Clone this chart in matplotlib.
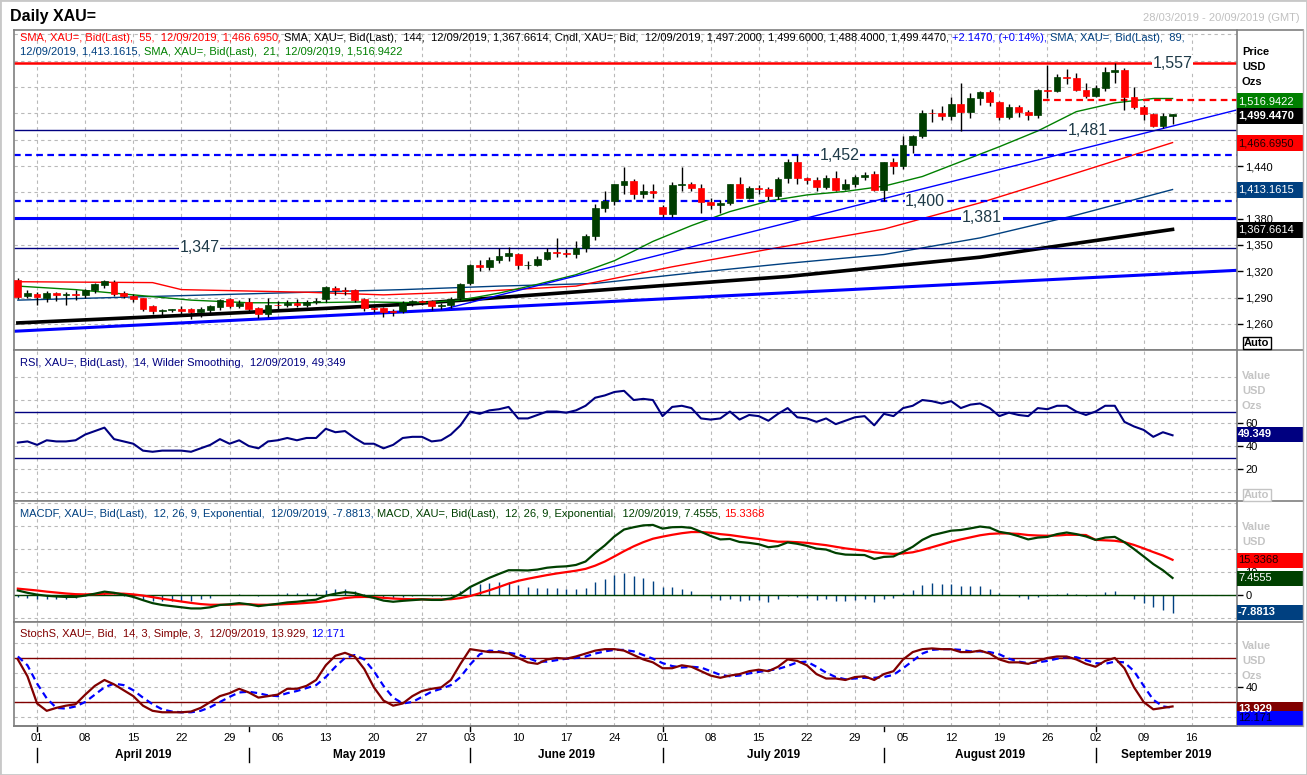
"""
Daily XAU= chart: candles with SMAs and trend lines, RSI, MACD and slow stochastics.
"""
import numpy as np
import pandas as pd
import matplotlib
matplotlib.use('Agg')
import matplotlib.pyplot as plt
from matplotlib.patches import Rectangle

plt.rcParams['font.family'] = ['Liberation Sans', 'DejaVu Sans']

# ---------------- data ----------------
dates = pd.bdate_range('2019-03-28', '2019-09-12')
axis_days = pd.bdate_range('2019-03-28', '2019-09-20')

opens = [1310, 1292,
         1294, 1290, 1295, 1293, 1294,
         1293, 1298, 1304, 1308, 1295,
         1292, 1290, 1280, 1275, 1276,
         1277, 1277, 1274, 1276, 1279,
         1288, 1280, 1285, 1278, 1271,
         1282, 1281, 1284, 1281, 1285,
         1288, 1301, 1298, 1299, 1288,
         1278, 1278, 1275, 1275, 1284,
         1286, 1286, 1280, 1281, 1289,
         1306, 1327, 1325, 1333, 1337,
         1340, 1327, 1327, 1334, 1342,
         1341, 1340, 1346, 1360, 1392,
         1400, 1418, 1423, 1408, 1411,
         1393, 1385, 1418, 1420, 1415,
         1399, 1395, 1398, 1419, 1404,
         1415, 1414, 1406, 1426, 1445,
         1426, 1424, 1416, 1426, 1414,
         1419, 1427, 1431, 1413, 1444,
         1440, 1464, 1474, 1501, 1500,
         1497, 1511, 1502, 1517, 1524,
         1513, 1496, 1507, 1502, 1498,
         1527, 1526, 1542, 1540, 1527,
         1520, 1529, 1547, 1549, 1519,
         1507, 1499, 1486, 1497.2]
highs = [1312, 1298,
         1296, 1297, 1296, 1296, 1298,
         1300, 1307, 1310, 1310, 1297,
         1294, 1290, 1281, 1277, 1277,
         1280, 1278, 1279, 1281, 1288,
         1289, 1287, 1289, 1279, 1289,
         1286, 1287, 1288, 1287, 1290,
         1303, 1303, 1302, 1300, 1289,
         1280, 1279, 1277, 1286, 1287,
         1287, 1287, 1284, 1291, 1306,
         1328, 1333, 1336, 1346, 1348,
         1341, 1332, 1337, 1346, 1358,
         1345, 1355, 1362, 1397, 1411,
         1420, 1439, 1425, 1419, 1420,
         1396, 1422, 1439, 1422, 1420,
         1404, 1401, 1420, 1428, 1417,
         1418, 1416, 1427, 1448, 1452,
         1428, 1427, 1430, 1434, 1425,
         1430, 1433, 1434, 1445, 1449,
         1474, 1475, 1504, 1505, 1509,
         1519, 1535, 1523, 1525, 1527,
         1514, 1511, 1510, 1504, 1528,
         1555, 1545, 1551, 1546, 1535,
         1532, 1553, 1557, 1552, 1530,
         1510, 1500, 1500, 1499.6]
lows = [1288, 1289,
        1281, 1285, 1286, 1282, 1287,
        1290, 1295, 1301, 1292, 1289,
        1285, 1275, 1271, 1270, 1273,
        1271, 1266, 1268, 1271, 1276,
        1278, 1278, 1272, 1267, 1268,
        1277, 1279, 1279, 1279, 1283,
        1285, 1293, 1293, 1285, 1275,
        1273, 1268, 1269, 1272, 1280,
        1282, 1276, 1277, 1278, 1287,
        1304, 1320, 1321, 1329, 1332,
        1323, 1323, 1326, 1333, 1336,
        1336, 1335, 1342, 1356, 1388,
        1396, 1408, 1402, 1404, 1403,
        1382, 1382, 1411, 1411, 1386,
        1391, 1386, 1396, 1403, 1402,
        1408, 1401, 1402, 1421, 1420,
        1419, 1412, 1414, 1411, 1413,
        1416, 1424, 1412, 1400, 1431,
        1437, 1455, 1472, 1490, 1493,
        1493, 1480, 1495, 1510, 1508,
        1492, 1494, 1496, 1492, 1495,
        1517, 1524, 1533, 1526, 1518,
        1519, 1525, 1535, 1504, 1505,
        1493, 1485, 1483, 1488.4]
closes = [1291, 1295,
          1291, 1295, 1293, 1294, 1293,
          1298, 1305, 1309, 1294, 1292,
          1288, 1277, 1275, 1276, 1276,
          1275, 1274, 1277, 1280, 1287,
          1280, 1284, 1277, 1271, 1281,
          1281, 1284, 1281, 1285, 1286,
          1302, 1298, 1297, 1287, 1278,
          1277, 1274, 1274, 1284, 1286,
          1285, 1280, 1281, 1288, 1305,
          1327, 1325, 1333, 1337, 1341,
          1327, 1327, 1334, 1342, 1341,
          1340, 1346, 1360, 1392, 1400,
          1419, 1423, 1408, 1411, 1409,
          1385, 1418, 1420, 1415, 1399,
          1395, 1398, 1419, 1404, 1415,
          1414, 1406, 1425, 1445, 1426,
          1424, 1416, 1426, 1413, 1419,
          1427, 1430, 1413, 1444, 1440,
          1464, 1474, 1501, 1500, 1497,
          1511, 1502, 1517, 1524, 1513,
          1496, 1507, 1502, 1498, 1527,
          1526, 1542, 1540, 1527, 1520,
          1529, 1547, 1549, 1519, 1507,
          1499, 1486, 1497, 1499.447]

# moving averages, read at a few day positions
sma21_x = [0, 6, 12, 18, 24, 30, 36, 42, 46, 50, 54, 58, 62, 66, 70, 74, 78,
           82, 86, 90, 94, 98, 102, 106, 110, 114, 118, 120]
sma21_y = [1303, 1299, 1293, 1287, 1284, 1284, 1285, 1284, 1287, 1295, 1305,
           1316, 1332, 1354, 1372, 1388, 1400, 1407, 1411, 1417, 1428, 1445,
           1462, 1480, 1502, 1512, 1517, 1516.94]
sma55_x = [0, 14, 17, 30, 38, 48, 58, 68, 78, 90, 100, 110, 120]
sma55_y = [1308, 1307, 1299, 1296, 1293, 1297, 1303, 1325, 1345, 1368, 1398,
           1432, 1466.70]
sma89_x = [0, 20, 40, 50, 60, 70, 80, 90, 100, 110, 120]
sma89_y = [1287, 1293, 1299, 1303, 1306, 1318, 1329, 1339, 1358, 1384, 1413.16]
sma144_x = [0, 20, 40, 60, 80, 100, 120]
sma144_y = [1261, 1271, 1282, 1298, 1314, 1336, 1367.66]

# drawn lines
levels = [1557, 1481, 1452, 1400, 1381, 1347]
level_labels = ['1,557', '1,481', '1,452', '1,400', '1,381', '1,347']
label_pos = [120, 111.2, 85.4, 94.3, 100.2, 18.9]
trend_major = ([-0.4, 126.7], [1251.5, 1321.0])
trend_minor = ([44, 126.7], [1276, 1504])
resist_dash = ([106.5, 126.7], [1515, 1515])

rsi = [43, 44, 41, 45, 44, 44, 45, 50, 53, 56, 46, 44, 42, 36, 35, 36, 36,
       36, 35, 38, 41, 46, 42, 45, 40, 38, 44, 45, 47, 45, 47, 47, 55, 52,
       53, 47, 42, 42, 38, 41, 47, 48, 48, 44, 45, 50, 58, 70, 68, 71, 72,
       74, 64, 64, 67, 70, 70, 69, 71, 75, 82, 84, 87, 88, 80, 81, 80, 66,
       74, 75, 73, 64, 63, 64, 70, 63, 67, 66, 62, 68, 73, 65, 64, 61, 64,
       59, 62, 65, 66, 58, 68, 66, 73, 75, 80, 79, 77, 79, 73, 76, 77, 73,
       66, 69, 67, 66, 73, 72, 75, 75, 70, 67, 70, 75, 75, 61, 57, 54, 48,
       52, 49.349]

macd = [2.0, 1.0, 0.2, -0.3, -0.6, -0.8, -0.8, -0.2, 0.6, 1.5, 1.0, 0.2,
        -0.8, -2.2, -3.5, -4.3, -4.8, -5.3, -5.8, -5.8, -5.3, -4.3, -4.0,
        -3.5, -4.0, -4.8, -4.3, -3.8, -3.2, -2.9, -2.4, -2.0, -0.3, 0.6, 1.3,
        0.9, -0.3, -1.2, -2.4, -2.9, -2.5, -2.2, -1.9, -2.1, -2.1, -1.4, 0.5,
        3.5, 5.5, 7.5, 9.2, 10.8, 10.8, 10.7, 11.1, 11.9, 12.3, 12.5, 13.1,
        14.6, 18.3, 21.6, 25.5, 28.5, 29.5, 30.3, 30.5, 28.9, 29.5, 29.6,
        29.2, 27.5, 25.7, 24.2, 24.4, 23.1, 22.7, 22.1, 20.8, 21.3, 22.9,
        22.3, 21.4, 20.2, 19.8, 18.3, 17.6, 17.5, 17.4, 15.7, 16.6, 16.8,
        18.8, 21.0, 24.0, 26.0, 27.0, 28.0, 28.3, 29.0, 29.8, 29.3, 27.5,
        26.8, 25.6, 24.2, 25.0, 25.3, 26.5, 27.2, 26.5, 25.5, 24.0, 25.0,
        25.3, 23.0, 20.0, 16.8, 13.5, 10.8, 7.4555]
signal = [2.8, 2.4, 2.0, 1.5, 1.1, 0.7, 0.4, 0.3, 0.4, 0.6, 0.7, 0.6, 0.3,
          -0.2, -0.9, -1.6, -2.2, -2.8, -3.4, -3.9, -4.2, -4.2, -4.2, -4.0,
          -4.0, -4.2, -4.2, -4.1, -3.9, -3.7, -3.4, -3.1, -2.6, -2.0, -1.3,
          -0.9, -0.8, -0.9, -1.2, -1.5, -1.7, -1.8, -1.8, -1.9, -1.9, -1.8,
          -1.3, -0.4, 0.8, 2.1, 3.5, 5.0, 6.2, 7.1, 7.9, 8.7, 9.4, 10.0, 10.6,
          11.4, 12.8, 14.6, 16.8, 19.1, 21.2, 23.0, 24.5, 25.4, 26.2, 26.9,
          27.4, 27.4, 27.1, 26.5, 26.1, 25.5, 24.9, 24.4, 23.7, 23.2, 23.2,
          23.0, 22.7, 22.2, 21.7, 21.0, 20.3, 19.8, 19.3, 18.6, 18.2, 17.9,
          18.1, 18.6, 19.6, 20.8, 22.0, 23.2, 24.2, 25.1, 26.0, 26.6, 26.8,
          26.8, 26.6, 26.1, 25.9, 25.8, 25.9, 26.2, 26.2, 26.1, 24.0, 23.8,
          23.6, 23.0, 21.8, 20.3, 18.7, 17.2, 15.3368]

stoch_k = [78, 55, 18, 8, 12, 15, 17, 30, 42, 50, 44, 36, 28, 15, 8, 6, 6,
           6, 7, 12, 20, 28, 32, 38, 33, 26, 28, 30, 38, 38, 42, 50, 70, 83,
           87, 82, 65, 40, 22, 15, 18, 28, 35, 38, 40, 50, 72, 92, 90, 88, 88,
           86, 80, 74, 72, 78, 80, 79, 82, 86, 90, 92, 92, 90, 84, 78, 74, 66,
           66, 70, 68, 62, 56, 53, 56, 58, 62, 64, 62, 68, 78, 76, 70, 58, 52,
           52, 50, 54, 55, 50, 58, 62, 78, 88, 92, 93, 92, 92, 88, 88, 90, 86,
           78, 74, 74, 72, 76, 80, 82, 82, 78, 72, 68, 76, 80, 66, 40, 20, 10,
           12, 13.929]
stoch_d = [82, 70, 45, 25, 12, 11, 14, 20, 30, 40, 45, 43, 36, 26, 17, 10, 7,
           6, 6, 8, 13, 20, 27, 33, 34, 32, 29, 28, 32, 35, 39, 43, 54, 68, 80,
           84, 78, 62, 42, 26, 18, 20, 27, 34, 38, 43, 54, 71, 85, 90, 89, 87,
           85, 80, 75, 75, 77, 79, 80, 82, 86, 89, 91, 91, 89, 84, 79, 73, 69,
           67, 68, 67, 62, 57, 55, 56, 59, 61, 63, 65, 69, 74, 75, 68, 60, 54,
           51, 52, 53, 53, 54, 57, 66, 76, 86, 91, 92, 92, 91, 89, 89, 88, 85,
           79, 75, 73, 74, 76, 79, 81, 81, 77, 73, 72, 75, 74, 62, 42, 23, 14,
           12.171]

# ---------------- layout helpers ----------------
W, H = 1307, 775
fig = plt.figure(figsize=(W / 100, H / 100), dpi=100)


def rect(l, t, r, b):
    return [l / W, 1 - b / H, (r - l) / W, (b - t) / H]


def fx(px):
    return px / W


def fy(py):
    return 1 - py / H


x = np.arange(len(dates))
xlim = (-0.4, 126.7)
mondays = [i for i, d in enumerate(axis_days) if d.weekday() == 0]
GRID = dict(color='#b9b9b9', lw=0.8, ls=(0, (3, 3)), zorder=0)

TOP = 30
ax_p = fig.add_axes(rect(14, TOP, 1237, 350))
ax_r = fig.add_axes(rect(14, 350, 1237, 501))
ax_m = fig.add_axes(rect(14, 501, 1237, 622))
ax_s = fig.add_axes(rect(14, 622, 1237, 726))

for ax in (ax_p, ax_r, ax_m, ax_s):
    ax.set_xlim(*xlim)
    ax.set_xticks([])
    for m in mondays:
        ax.axvline(m, **GRID)
    ax.yaxis.tick_right()
    ax.tick_params(axis='y', direction='out', length=4, width=1, pad=2,
                   labelsize=8, colors='black')
    for s in ax.spines.values():
        s.set_color('#7f7f7f')
        s.set_linewidth(1.2)
    ax.spines['top'].set_visible(False)


def comma(v):
    return f'{v:,.0f}'


# ---------------- price panel ----------------
# 1,440 sits at y=166 px, 30 points = 26.3 px
ax_p.set_ylim(1440 - (350 - 166) / 0.8767, 1440 + (166 - TOP) / 0.8767)
price_ticks = [1260, 1290, 1320, 1350, 1380, 1440]
ax_p.set_yticks(price_ticks)
ax_p.set_yticklabels([comma(v) for v in price_ticks])
for lv in np.arange(1260, 1591, 30):
    ax_p.axhline(lv, **GRID)

o = np.array(opens)
h = np.array(highs)
lo = np.array(lows)
c = np.array(closes)
up = c >= o
ax_p.vlines(x, lo, h, color='black', lw=1, zorder=3)
ax_p.bar(x[up], np.maximum(c[up] - o[up], 0.6), bottom=o[up], width=0.7,
         color='#003d00', edgecolor='#003d00', lw=0.5, zorder=4)
ax_p.bar(x[~up], (o - c)[~up], bottom=c[~up], width=0.7,
         color='#ff0000', edgecolor='#ff0000', lw=0.5, zorder=4)

ax_p.plot(sma144_x, sma144_y, color='black', lw=2.6, zorder=2)
ax_p.plot(sma89_x, sma89_y, color='#004080', lw=1, zorder=2)
ax_p.plot(sma55_x, sma55_y, color='#ff0000', lw=1, zorder=2)
ax_p.plot(sma21_x, sma21_y, color='#008000', lw=1, zorder=2)

ax_p.plot(*trend_major, color='#0000ff', lw=2.2, zorder=2)
ax_p.plot(*trend_minor, color='#0000ff', lw=1, zorder=2)
ax_p.plot(*resist_dash, color='#ff0000', lw=1.6, ls=(0, (3, 2)), zorder=2)
ax_p.axhline(1557, color='#ff0000', lw=1.8, zorder=2)
ax_p.axhline(1481, color='#000080', lw=1, zorder=2)
ax_p.axhline(1452, color='#0000ff', lw=1.6, ls=(0, (3, 2)), zorder=2)
ax_p.axhline(1400, color='#0000ff', lw=1.6, ls=(0, (3, 2)), zorder=2)
ax_p.axhline(1381, color='#0000ff', lw=2.2, zorder=2)
ax_p.axhline(1347, color='#000080', lw=1, zorder=2)
for lv, lab, px in zip(levels, level_labels, label_pos):
    ax_p.text(px, lv, lab, fontsize=11.5, color='#1e3a48', ha='center',
              va='center', zorder=6,
              bbox=dict(fc='white', ec='none', pad=0.5))

# ---------------- RSI ----------------
ax_r.set_ylim(-7.8, 123.5)
ax_r.set_yticks([20, 40, 60])
for lv in range(0, 101, 20):
    ax_r.axhline(lv, **GRID)
ax_r.axhline(70, color='#000080', lw=1)
ax_r.axhline(30, color='#000080', lw=1)
ax_r.plot(x, rsi, color='#000080', lw=1.5)

# ---------------- MACD ----------------
ax_m.set_ylim(-11.7, 40.9)
ax_m.set_yticks([0, 10])
ax_m.set_yticklabels(['0', '10'])
for lv in (-10, 0, 10, 20, 30, 40):
    ax_m.axhline(lv, **GRID)
macdf = np.array(macd) - np.array(signal)
ax_m.vlines(x, 0, macdf, color='#004080', lw=1)
ax_m.axhline(0, color='#004000', lw=1)
ax_m.plot(x, signal, color='#ff0000', lw=1.6)
ax_m.plot(x, macd, color='#004000', lw=1.6)

# ---------------- Stochastics ----------------
ax_s.set_ylim(-12.7, 129)
ax_s.set_yticks([40])
for lv in range(0, 101, 20):
    ax_s.axhline(lv, **GRID)
ax_s.axhline(80, color='#800000', lw=1)
ax_s.axhline(20, color='#800000', lw=1)
ax_s.plot(x, stoch_d, color='#0000ff', lw=1.6, ls=(0, (3, 2)))
ax_s.plot(x, stoch_k, color='#800000', lw=1.6)

# ---------------- date axis ----------------
ax_d = fig.add_axes(rect(14, 726, 1237, 775))
ax_d.set_xlim(*xlim)
ax_d.set_ylim(0, 1)
ax_d.axis('off')
for m in mondays:
    ax_d.text(m, 1 - 12 / 49, f'{axis_days[m].day:02d}', ha='center',
              va='center', fontsize=8)
month_starts = [i for i in range(1, len(axis_days))
                if axis_days[i].month != axis_days[i - 1].month]
bounds = month_starts + [xlim[1]]
for i, ms in enumerate(month_starts):
    ax_d.plot([ms, ms], [1 - 22 / 49, 1 - 36 / 49], color='black', lw=1)
    ax_d.plot([ms, ms], [1, 1 - 5 / 49], color='black', lw=1)
    mid = (bounds[i] + bounds[i + 1]) / 2
    ax_d.text(mid, 1 - 29 / 49, axis_days[ms].strftime('%B %Y'),
              ha='center', va='center', fontsize=8.5, fontweight='bold')

# ---------------- frame lines ----------------
for yy in (TOP, 350, 501, 622, 726):
    fig.add_artist(plt.Line2D([fx(14), fx(1303)], [fy(yy), fy(yy)],
                              color='#7f7f7f', lw=1.2))
fig.add_artist(plt.Line2D([fx(1303), fx(1303)], [fy(TOP), fy(726)],
                          color='#b0b0b0', lw=1))
fig.add_artist(Rectangle((0, 0), 1, 1, transform=fig.transFigure,
                         fill=False, ec='#c8c8c8', lw=2))

# ---------------- texts ----------------
fig.text(fx(10), fy(16), 'Daily XAU=', fontsize=11.5, fontweight='bold',
         va='center')
fig.text(fx(1300), fy(18), '28/03/2019 - 20/09/2019 (GMT)', fontsize=8,
         color='#c0c0c0', ha='right', va='center')

renderer = fig.canvas.get_renderer()


def seg_text(x0, y0, segments, size=8):
    xx = x0
    for s, col in segments:
        t = fig.text(fx(xx), fy(y0), s, color=col, fontsize=size,
                     va='center', ha='left')
        xx += t.get_window_extent(renderer).width


seg_text(20, 38, [
    ('SMA, XAU=, Bid(Last),  55,  12/09/2019, 1,466.6950, ', '#ff0000'),
    ('SMA, XAU=, Bid(Last),  144,  12/09/2019, 1,367.6614, Cndl, XAU=, Bid,  '
     '12/09/2019, 1,497.2000, 1,499.6000, 1,488.4000, 1,499.4470, ', 'black'),
    ('+2.1470, (+0.14%), ', '#0000ff'),
    ('SMA, XAU=, Bid(Last),  89,', '#004080')])
seg_text(20, 52, [
    ('12/09/2019, 1,413.1615, ', '#004080'),
    ('SMA, XAU=, Bid(Last),  21,  12/09/2019, 1,516.9422', '#008000')])
seg_text(20, 363, [
    ('RSI, XAU=, Bid(Last),  14, Wilder Smoothing,  12/09/2019, 49.349',
     '#000080')])
seg_text(20, 514, [
    ('MACDF, XAU=, Bid(Last),  12, 26, 9, Exponential,  12/09/2019, -7.8813, ',
     '#004080'),
    ('MACD, XAU=, Bid(Last),  12, 26, 9, Exponential,  12/09/2019, 7.4555, ',
     '#004000'),
    ('15.3368', '#ff0000')])
seg_text(20, 634, [
    ('StochS, XAU=, Bid,  14, 3, Simple, 3,  12/09/2019, 13.929, ', '#800000'),
    ('12.171', '#0000ff')])

# right side headers
for (yy, s) in ((52, 'Price'), (67, 'USD'), (82, 'Ozs')):
    fig.text(fx(1242), fy(yy), s, fontsize=8, fontweight='bold', va='center')
for base, names in ((376, ('Value', 'USD', 'Ozs')), (527, ('Value', 'USD')),
                    (646, ('Value', 'USD', 'Ozs'))):
    for k, s in enumerate(names):
        fig.text(fx(1242), fy(base + 15 * k), s, fontsize=8,
                 fontweight='bold', color='#c4c4c4', va='center')

fig.text(fx(1244), fy(343), 'Auto', fontsize=8, fontweight='bold',
         va='center', bbox=dict(fc='white', ec='black', pad=1, lw=1))
fig.text(fx(1244), fy(495), 'Auto', fontsize=8, fontweight='bold',
         color='#c4c4c4', va='center',
         bbox=dict(fc='white', ec='#c4c4c4', pad=1, lw=1))

value_boxes = [(101, '1,516.9422', '#008000', 'white', 'normal'),
               (116, '1,499.4470', '#000000', 'white', 'bold'),
               (143, '1,466.6950', '#ff0000', '#200000', 'normal'),
               (190, '1,413.1615', '#004080', 'white', 'normal'),
               (230, '1,367.6614', '#000000', 'white', 'normal'),
               (434, '49.349', '#000080', 'white', 'bold'),
               (560, '15.3368', '#ff0000', '#200000', 'normal'),
               (578, '7.4555', '#004000', 'white', 'normal'),
               (612, '-7.8813', '#004080', 'white', 'bold'),
               (709, '13.929', '#800000', 'white', 'bold'),
               (718, '12.171', '#0000ff', '#000020', 'normal')]
for yy, s, bg, fg, wt in value_boxes:
    fig.add_artist(Rectangle((fx(1237), fy(yy + 7.5)), fx(67), 15 / H,
                             transform=fig.transFigure, fc=bg, ec='none'))
    fig.text(fx(1238), fy(yy), s, fontsize=8, color=fg, fontweight=wt,
             va='center')

fig.savefig('out.png', dpi=100)
